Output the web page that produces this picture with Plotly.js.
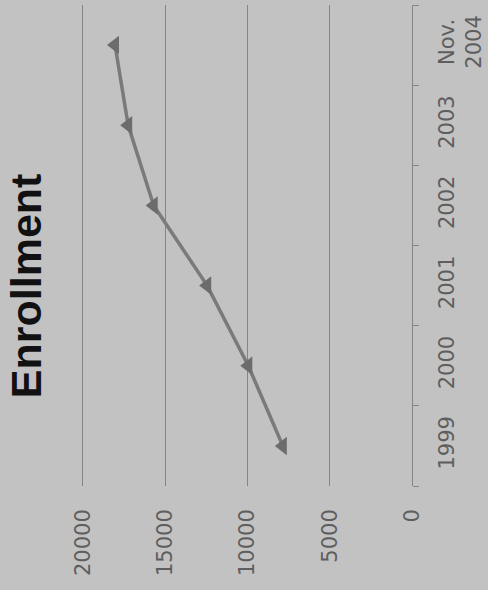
<!DOCTYPE html>
<html>
<head>
<meta charset="utf-8">
<script src="https://cdn.plot.ly/plotly-3.0.1.min.js"></script>
<style>html,body{margin:0;padding:0;background:#c2c2c2;}#chart{width:488px;height:590px;}</style>
</head>
<body>
<div id="chart"></div>
<script>
const categories = ["1999", "2000", "2001", "2002", "2003", "Nov.<br>2004"];
const enrollment = [7850, 9950, 12450, 15700, 17250, 18050];
const valueTicks = [0, 5000, 10000, 15000, 20000];
const chartTitle = "Enrollment";

const trace = {
  type: "scatter",
  mode: "lines+markers",
  x: enrollment,
  y: categories,
  line: {color: "#7a7a7a", width: 3.5},
  marker: {symbol: "triangle-left", size: 16, color: "#6c6c6c"},
  cliponaxis: false
};

const tickFont = {family: "DejaVu Sans", size: 21, color: "#5e5e5e"};

const layout = {
  width: 488, height: 590,
  margin: {l: 78, r: 76, t: 5, b: 104},
  paper_bgcolor: "#c2c2c2",
  plot_bgcolor: "#c2c2c2",
  showlegend: false,
  xaxis: {
    range: [20300, 0],
    tickvals: valueTicks,
    ticktext: valueTicks.map(String),
    tickangle: -90,
    tickfont: tickFont,
    ticks: "",
    ticklabelstandoff: 18,
    showgrid: true,
    gridcolor: "#858585",
    gridwidth: 1,
    zeroline: false,
    showline: false
  },
  yaxis: {
    type: "category",
    side: "right",
    range: [-0.5, 5.5],
    tickangle: -90,
    tickfont: tickFont,
    ticks: "outside",
    tickson: "boundaries",
    ticklen: 6,
    tickcolor: "#858585",
    ticklabelstandoff: 16,
    showline: true,
    linecolor: "#858585",
    linewidth: 1,
    showgrid: false,
    zeroline: false
  },
  annotations: [{
    text: chartTitle,
    xref: "paper", yref: "paper",
    x: -0.155, y: 0.416,
    xanchor: "center", yanchor: "middle",
    textangle: -90,
    showarrow: false,
    font: {family: "Liberation Sans", size: 43, color: "#111111", weight: "bold"}
  }]
};

Plotly.newPlot("chart", [trace], layout, {displayModeBar: false, staticPlot: true});
</script>
</body>
</html>
